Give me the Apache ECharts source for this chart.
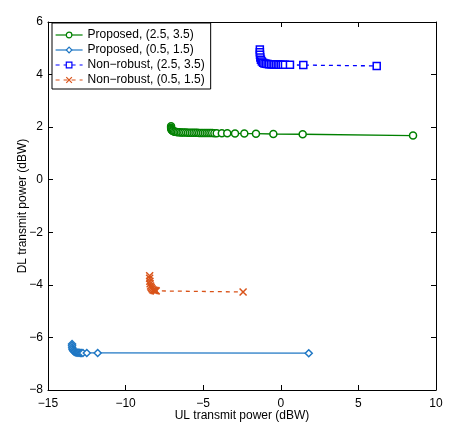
<!DOCTYPE html>
<html>
<head>
<meta charset="utf-8">
<script src="https://cdn.jsdelivr.net/npm/echarts@6/dist/echarts.min.js"></script>
<style>
  html, body { margin: 0; padding: 0; background: #fff; }
  #chart { width: 466px; height: 426px; }
</style>
</head>
<body>
<div id="chart"></div>
<script>
// Proposed, (2.5, 3.5)
const propHiX = [-7.07, -7.07, -7.06, -7.04, -7.0, -6.95, -6.88, -6.8, -6.72, -6.63, -6.53, -6.43, -6.33, -6.22, -6.1, -5.98, -5.86, -5.74, -5.62, -5.5, -5.38, -5.26, -5.14, -5.02, -4.9, -4.78, -4.66, -4.54, -4.42, -4.28, -4.13, -3.8, -3.45, -2.95, -2.35, -1.6, -0.48, 1.41, 8.52];
const propHiY = [2.03, 1.98, 1.94, 1.9, 1.87, 1.85, 1.83, 1.82, 1.815, 1.81, 1.805, 1.80, 1.80, 1.795, 1.795, 1.79, 1.79, 1.79, 1.785, 1.785, 1.785, 1.78, 1.78, 1.78, 1.78, 1.775, 1.775, 1.775, 1.775, 1.77, 1.77, 1.77, 1.765, 1.76, 1.755, 1.75, 1.74, 1.73, 1.68];
// Proposed, (0.5, 1.5)
const propLoX = [-13.45, -13.45, -13.44, -13.42, -13.38, -13.33, -13.27, -13.2, -13.13, -13.06, -12.99, -12.92, -12.85, -12.75, -12.5, -11.8, 1.8];
const propLoY = [-6.25, -6.32, -6.39, -6.45, -6.5, -6.53, -6.55, -6.57, -6.58, -6.58, -6.585, -6.59, -6.59, -6.59, -6.59, -6.59, -6.6];
// Non-robust, (2.5, 3.5)
const nonHiX = [-1.35, -1.35, -1.34, -1.32, -1.28, -1.22, -1.14, -1.05, -0.95, -0.85, -0.75, -0.64, -0.53, -0.42, -0.31, -0.2, -0.09, 0.02, 0.13, 0.27, 0.59, 1.45, 6.18];
const nonHiY = [4.95, 4.85, 4.75, 4.65, 4.56, 4.5, 4.45, 4.42, 4.41, 4.40, 4.395, 4.39, 4.39, 4.385, 4.38, 4.38, 4.375, 4.375, 4.37, 4.37, 4.37, 4.36, 4.33];
// Non-robust, (0.5, 1.5)
const nonLoX = [-8.45, -8.45, -8.44, -8.42, -8.39, -8.35, -8.3, -8.24, -8.17, -8.1, -8.03, -2.43];
const nonLoY = [-3.65, -3.75, -3.86, -3.96, -4.04, -4.1, -4.15, -4.19, -4.21, -4.22, -4.23, -4.27];

const names = ['Proposed, (2.5, 3.5)', 'Proposed, (0.5, 1.5)', 'Non\u2212robust, (2.5, 3.5)', 'Non\u2212robust, (0.5, 1.5)'];
const colors = ['#008000', '#1f77c4', '#0000ff', '#d95319'];

const pairs = (xs, ys) => xs.map((x, i) => [x, ys[i]]);
const font = 'Liberation Sans, Arial, Helvetica, sans-serif';
const crossPath = 'path://M0,0L10,10M10,0L0,10';

const makeSeries = (i, data, symbol, dashed) => ({
  name: names[i],
  type: 'line',
  data: data,
  symbol: symbol,
  symbolSize: 7,
  showAllSymbol: true,
  lineStyle: { color: colors[i], width: 1.3, type: dashed ? [4, 4] : 'solid' },
  itemStyle: { color: symbol === crossPath ? colors[i] : '#fff', borderColor: colors[i], borderWidth: 1.5 },
  emphasis: { disabled: true },
  animation: false
});

const axisCommon = {
  type: 'value',
  axisLine: { show: true, onZero: false, lineStyle: { color: '#000', width: 1 } },
  axisTick: { show: true, inside: true, length: 5, lineStyle: { color: '#000' } },
  splitLine: { show: false }
};

const chart = echarts.init(document.getElementById('chart'), null, { renderer: 'canvas' });
chart.setOption({
  animation: false,
  backgroundColor: '#fff',
  grid: { left: 48, right: 30, top: 22, bottom: 36, containLabel: false, outerBoundsMode: 'none' },
  legend: {
    orient: 'vertical',
    left: 52,
    top: 23,
    padding: [5, 6, 2, 3],
    itemGap: 1,
    itemWidth: 27,
    itemHeight: 7,
    backgroundColor: '#fff',
    borderColor: '#000',
    borderWidth: 1,
    borderRadius: 0,
    data: names,
    lineStyle: { width: 1.2 },
    itemStyle: { borderWidth: 1.2 },
    textStyle: { fontFamily: font, fontSize: 12, color: '#000', lineHeight: 14 }
  },
  xAxis: [
    Object.assign({}, axisCommon, {
      min: -15, max: 10, interval: 5,
      name: 'UL transmit power (dBW)', nameLocation: 'middle', nameGap: 20,
      nameMoveOverlap: false,
      nameTextStyle: { fontFamily: font, fontSize: 12, color: '#000' },
      axisLabel: { fontFamily: font, fontSize: 12, color: '#000', margin: 8,
        formatter: v => String(v).replace('-', '\u2212') }
    }),
    Object.assign({}, axisCommon, {
      min: -15, max: 10, interval: 5, position: 'top',
      axisLabel: { show: false }
    })
  ],
  yAxis: [
    Object.assign({}, axisCommon, {
      min: -8, max: 6, interval: 2,
      name: 'DL transmit power (dBW)', nameLocation: 'middle', nameGap: 19,
      nameMoveOverlap: false,
      nameTextStyle: { fontFamily: font, fontSize: 12, color: '#000' },
      axisLabel: { fontFamily: font, fontSize: 12, color: '#000', margin: 5,
        formatter: v => String(v).replace('-', '\u2212') }
    }),
    Object.assign({}, axisCommon, {
      min: -8, max: 6, interval: 2, position: 'right',
      axisLabel: { show: false }
    })
  ],
  series: [
    makeSeries(0, pairs(propHiX, propHiY), 'circle', false),
    makeSeries(1, pairs(propLoX, propLoY), 'diamond', false),
    makeSeries(2, pairs(nonHiX, nonHiY), 'rect', true),
    makeSeries(3, pairs(nonLoX, nonLoY), crossPath, true)
  ]
});
</script>
</body>
</html>
